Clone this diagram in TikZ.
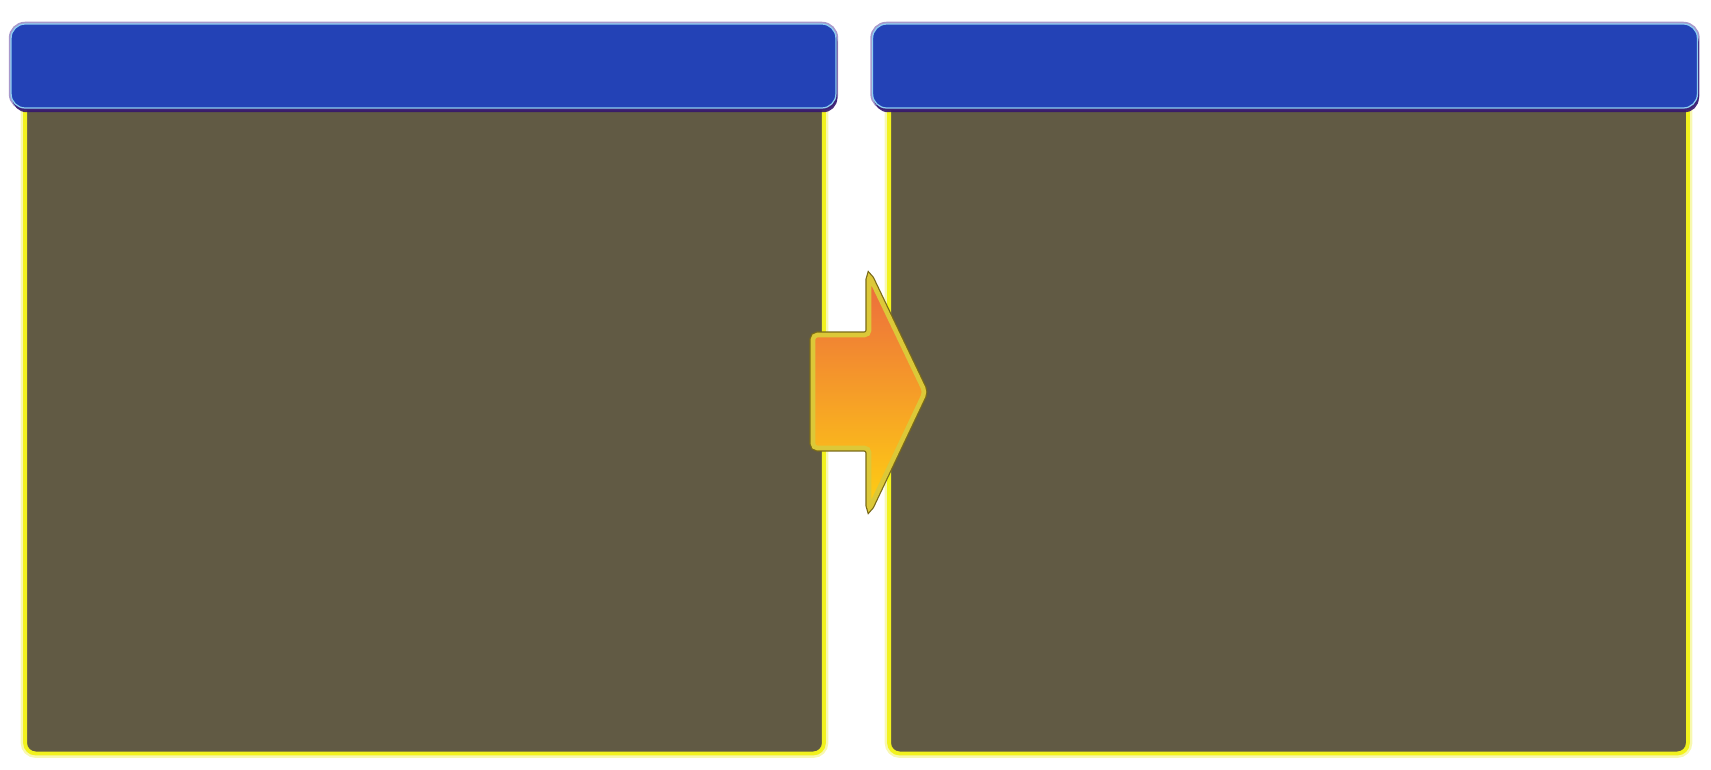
\documentclass[tikz,border=0pt]{standalone}
\usepackage{xcolor}
\usetikzlibrary{arrows.meta, calc, shadows}

\definecolor{paneldark}{HTML}{615A44}
\definecolor{panelrim}{HTML}{F2F21E}
\definecolor{panelglow}{HTML}{F8F8B0}
\definecolor{headblue}{HTML}{2342B6}
\definecolor{headrim}{HTML}{A898CC}
\definecolor{headline}{HTML}{8CCFF2}
\definecolor{headshade}{HTML}{34166E}
\definecolor{arrtop}{HTML}{EC6A3E}
\definecolor{arrbot}{HTML}{FFD012}
\definecolor{arrrim}{HTML}{DCC838}
\definecolor{arrdark}{HTML}{7A6A18}

\begin{document}
\begin{tikzpicture}[x=0.02cm, y=-0.02cm,
  panel/.style={draw=panelrim, line width=2.2pt, fill=paneldark, rounded corners=6pt, inner sep=0pt,
    minimum width=15.98cm, minimum height=13.18cm, preaction={draw=panelglow, line width=5pt}},
  headbar/.style={draw=headline, line width=0.7pt, fill=headblue, rounded corners=8pt, inner sep=0pt,
    minimum width=16.5cm, minimum height=1.68cm, preaction={draw=headrim, line width=2.6pt},
    drop shadow={shadow xshift=0.8pt, shadow yshift=-2.4pt, fill=headshade, opacity=0.9}},
  bigarrow/.style={draw=arrrim, line width=2.6pt, rounded corners=2.5pt, top color=arrtop, bottom color=arrbot,
    preaction={draw=arrdark, line width=4pt}}]
  \useasboundingbox (0,0) rectangle (1711,769);
  % panels
  \node[panel] (before) at (424.5,424) {};
  \node[panel] (after) at (1288.5,424) {};
  % title bars
  \node[headbar] (beforehead) at (423.5,66) {};
  \node[headbar] (afterhead) at (1285,66) {};
  % arrow between the panels
  \path[bigarrow] (813,335) -- (869,335) -- (869,275) -- (925,392) -- (869,510) -- (869,448) -- (813,448) -- cycle;
\end{tikzpicture}
\end{document}
